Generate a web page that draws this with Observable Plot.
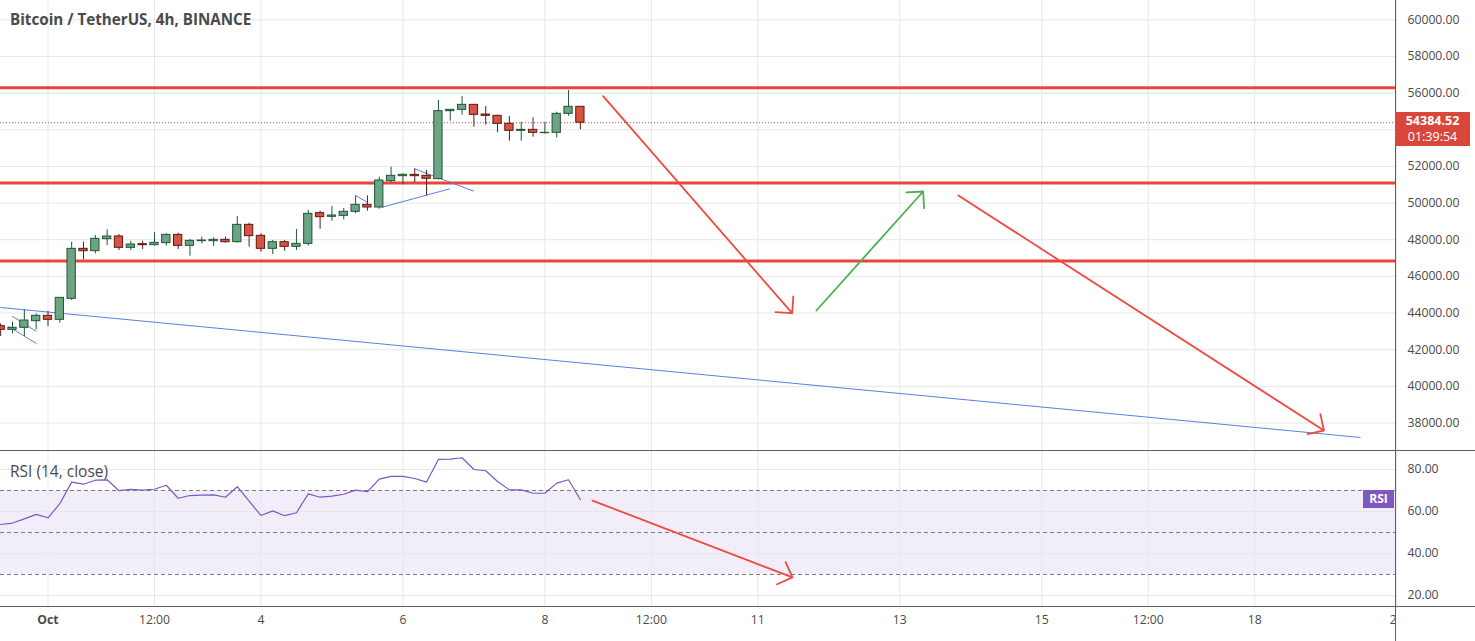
<!DOCTYPE html>
<html><head><meta charset="utf-8">
<script src="https://cdn.jsdelivr.net/npm/d3@7"></script>
<script src="https://cdn.jsdelivr.net/npm/@observablehq/plot@0.6"></script>
<style>
html,body{margin:0;padding:0;background:#fff;overflow:hidden;}
#wrap{position:relative;width:1475px;height:641px;overflow:hidden;font-family:"Open Sans",sans-serif;}
#main,#rsi{position:absolute;left:0;}
#main{top:0;} #rsi{top:450px;}
.ov{position:absolute;}
.title{left:10px;top:9px;font-weight:bold;font-size:15.2px;color:#4a4a4a;white-space:nowrap;}
.rsititle{left:10px;top:460px;font-size:15.5px;color:#4a4a4a;white-space:nowrap;}
.hline{left:0;width:1475px;height:1px;background:#5d606b;}
.vline{left:1395px;top:0;width:1px;height:641px;background:#5d606b;}
.cover{left:1396px;top:607px;width:79px;height:34px;background:#fff;}
.plabel{left:1395px;width:75px;height:34px;background:#d9473b;color:#fff;font-size:12.5px;line-height:16px;text-align:center;padding-top:1px;box-sizing:border-box;}
.rlabel{left:1363px;width:31px;height:18px;background:#7e57c2;color:#fff;font-size:12px;font-weight:bold;line-height:18px;text-align:center;}
</style></head><body>
<div id="wrap">
  <div id="main"></div>
  <div id="rsi"></div>
</div>
<script>
// ---- data ----
const candleTimes = [
  "2021-09-30T08:00Z","2021-09-30T12:00Z","2021-09-30T16:00Z","2021-09-30T20:00Z",
  "2021-10-01T00:00Z","2021-10-01T04:00Z","2021-10-01T08:00Z","2021-10-01T12:00Z","2021-10-01T16:00Z","2021-10-01T20:00Z",
  "2021-10-02T00:00Z","2021-10-02T04:00Z","2021-10-02T08:00Z","2021-10-02T12:00Z","2021-10-02T16:00Z","2021-10-02T20:00Z",
  "2021-10-03T00:00Z","2021-10-03T04:00Z","2021-10-03T08:00Z","2021-10-03T12:00Z","2021-10-03T16:00Z","2021-10-03T20:00Z",
  "2021-10-04T00:00Z","2021-10-04T04:00Z","2021-10-04T08:00Z","2021-10-04T12:00Z","2021-10-04T16:00Z","2021-10-04T20:00Z",
  "2021-10-05T00:00Z","2021-10-05T04:00Z","2021-10-05T08:00Z","2021-10-05T12:00Z","2021-10-05T16:00Z","2021-10-05T20:00Z",
  "2021-10-06T00:00Z","2021-10-06T04:00Z","2021-10-06T08:00Z","2021-10-06T12:00Z","2021-10-06T16:00Z","2021-10-06T20:00Z",
  "2021-10-07T00:00Z","2021-10-07T04:00Z","2021-10-07T08:00Z","2021-10-07T12:00Z","2021-10-07T16:00Z","2021-10-07T20:00Z",
  "2021-10-08T00:00Z","2021-10-08T04:00Z","2021-10-08T08:00Z","2021-10-08T12:00Z"
];
const opens  = [43284,43084,43193,43557,43848,43630,44776,47504,47376,48031,48176,47558,47758,47704,47813,48267,47667,47922,47922,47995,47867,48813,48213,47504,47867,47613,47776,49450,49250,49304,49522,49904,49759,51196,51468,51541,51487,51305,55015,55088,55360,54833,54760,54324,53942,53996,53814,53833,54869,55251];
const highs  = [43411,43502,44175,43957,44084,44830,47867,47867,48231,48540,48286,47922,47922,48395,48322,48358,48013,48140,48104,48140,49268,48904,48322,47958,47958,48558,49595,49559,49813,49704,50395,50395,51414,51959,51596,51868,51778,55597,55088,55815,55360,55269,54797,54724,54415,54651,54415,54960,56142,55251];
const lows   = [42720,42866,42720,43084,43266,43448,44685,46903,47231,47685,47413,47413,47467,47649,47649,47467,47103,47776,47631,47813,47813,47594,47322,47194,47376,47413,47649,48577,49013,49086,49413,49559,49668,51123,50995,51123,50395,51268,54469,54797,54142,54251,53833,53378,53378,53596,53778,53560,54742,53996];
const closes = [43084,43193,43593,43848,43630,44830,47504,47376,48049,48176,47558,47740,47704,47831,48267,47667,47940,47958,47995,47867,48813,48195,47504,47867,47613,47776,49413,49231,49322,49522,49904,49759,51232,51487,51541,51468,51323,55015,55088,55360,54815,54760,54324,53942,53996,53833,53833,54869,55251,54384.52];
const rsiValues = [53.8,54.5,56.5,58.6,57.0,63.7,74.0,73.0,74.9,75.1,69.9,70.5,70.2,70.6,72.5,66.3,67.6,67.8,67.9,66.8,71.8,64.9,58.1,60.3,58.0,59.4,68.4,66.8,67.3,68.2,70.2,69.4,75.4,76.7,76.7,75.7,74.0,84.8,84.9,85.6,80.0,79.4,74.3,70.3,70.3,68.7,68.7,73.5,75.1,65.6];

const priceTicks = [38000,40000,42000,44000,46000,48000,50000,52000,54000,56000,58000,60000];
const rsiTicks = [20,40,60,80];
const rsiLevels = [30,50,70];
const rsiBand = [[30,70]];
const tickTimes = ["2021-10-01T00:00Z","2021-10-02T12:00Z","2021-10-04T00:00Z","2021-10-06T00:00Z","2021-10-08T00:00Z","2021-10-09T12:00Z","2021-10-11T00:00Z","2021-10-13T00:00Z","2021-10-15T00:00Z","2021-10-16T12:00Z","2021-10-18T00:00Z","2021-10-20T00:00Z"];
const tickLabels = ["Oct","12:00","4","6","8","12:00","11","13","15","12:00","18","20"];

const levels = [56290, 51100, 46840];
const greenLevel = [56000];
const trendLines = [
  {t1:"2021-09-30T07:56Z", p1:44303, t2:"2021-10-19T11:46Z", p2:37210},
  {t1:"2021-09-30T11:54Z", p1:43828, t2:"2021-09-30T20:06Z", p2:42994},
  {t1:"2021-09-30T10:38Z", p1:43266, t2:"2021-09-30T20:06Z", p2:42339},
  {t1:"2021-10-05T07:58Z", p1:50414, t2:"2021-10-05T11:55Z", p2:50048},
  {t1:"2021-10-05T17:00Z", p1:49775, t2:"2021-10-06T15:54Z", p2:50779},
  {t1:"2021-10-06T03:55Z", p1:51870, t2:"2021-10-07T00:00Z", p2:50648}
];
const priceArrows = [
  {t1:"2021-10-08T19:42Z", p1:55832, t2:"2021-10-11T11:36Z", p2:43992, color:"#ef4a40"},
  {t1:"2021-10-11T19:48Z", p1:44140, t2:"2021-10-13T07:54Z", p2:50632, color:"#4caf50"},
  {t1:"2021-10-13T19:48Z", p1:50414, t2:"2021-10-18T23:24Z", p2:37592, color:"#ef4a40"}
];
const rsiArrows = [
  {t1:"2021-10-08T16:06Z", v1:65.2, t2:"2021-10-11T11:42Z", v2:28.6, color:"#ef4a40"}
];
const titleText = "Bitcoin / TetherUS, 4h, BINANCE";
const rsiTitle = "RSI (14, close)";
const countdown = "01:39:54";

// ---- build ----
const xDomain = [new Date("2021-09-30T07:56:24Z"), new Date("2021-10-19T23:36:00Z")];
const yDomain = [36501, 61053];
const rsiDomain = [14.76, 88.57];
const candles = candleTimes.map((t,i)=>({t:new Date(t), o:opens[i], h:highs[i], l:lows[i], c:closes[i]}));
const rsiData = candleTimes.map((t,i)=>({t:new Date(t), v:rsiValues[i]}));
const tickDates = tickTimes.map(s=>new Date(s));
const tickObjs = tickDates.map((d,i)=>({t:d, label:tickLabels[i]}));
const up = d => d.c >= d.o;
const half = 1.4*3600e3;
const lastClose = closes[closes.length-1];
const lastRsi = rsiValues[rsiValues.length-1];
const D = s => new Date(s);
const gridColor = "#e6e7ea";
const baseStyle = {fontFamily:'"Open Sans", sans-serif', fontSize:"12.2px", color:"#4a4a4a", background:"transparent", overflow:"visible"};
// price-axis labels hidden under the last-price tag (as in the original)
const visiblePriceTicks = priceTicks.filter(v => Math.abs(v - lastClose) > 1000);

const mainPlot = Plot.plot({
  width:1475, height:450, marginLeft:0, marginRight:80, marginTop:0, marginBottom:0,
  style: baseStyle,
  x:{type:"utc", domain:xDomain, axis:null},
  y:{domain:yDomain, axis:"right", ticks:visiblePriceTicks, tickFormat:d=>d.toFixed(2), tickSize:0, tickPadding:12, label:null},
  color:{type:"identity"},
  marks:[
    Plot.ruleY(priceTicks.filter(v=>!greenLevel.includes(v)), {stroke:gridColor}),
    Plot.ruleY(greenLevel, {stroke:"#c9ebcb"}),
    Plot.ruleX(tickDates, {stroke:gridColor}),
    Plot.ruleY(levels, {stroke:"#e8453c", strokeWidth:3}),
    Plot.ruleY([lastClose], {stroke:"#d9453b", strokeDasharray:"1,2"}),
    Plot.link(trendLines, {x1:d=>D(d.t1), y1:"p1", x2:d=>D(d.t2), y2:"p2", stroke:"#5b7fe0", strokeWidth:1}),
    Plot.ruleX(candles, {x:"t", y1:"l", y2:"h", stroke:d=>up(d)?"#225437":"#5b1a13", strokeWidth:1}),
    Plot.rect(candles, {x1:d=>new Date(+d.t-half), x2:d=>new Date(+d.t+half), y1:"o", y2:"c",
      fill:d=>up(d)?"#6ba583":"#d75442", stroke:d=>up(d)?"#225437":"#5b1a13", strokeWidth:1}),
    Plot.arrow(priceArrows, {x1:d=>D(d.t1), y1:"p1", x2:d=>D(d.t2), y2:"p2", stroke:"color", strokeWidth:1.8, headLength:14, headAngle:90})
  ]
});

const rsiPlot = Plot.plot({
  width:1475, height:191, marginLeft:0, marginRight:80, marginTop:1, marginBottom:35,
  style: baseStyle,
  x:{type:"utc", domain:xDomain, axis:null},
  y:{domain:rsiDomain, axis:"right", ticks:rsiTicks, tickFormat:d=>d.toFixed(2), tickSize:0, tickPadding:12, label:null},
  color:{type:"identity"},
  marks:[
    Plot.rect(rsiBand, {x1:()=>xDomain[0], x2:()=>xDomain[1], y1:d=>d[0], y2:d=>d[1], fill:"#7e57c2", fillOpacity:0.1}),
    Plot.ruleY(rsiTicks, {stroke:gridColor}),
    Plot.ruleX(tickDates, {stroke:gridColor}),
    Plot.ruleY(rsiLevels, {stroke:"#787b86", strokeDasharray:"4,3"}),
    Plot.line(rsiData, {x:"t", y:"v", stroke:"#7e57c2", strokeWidth:1.2}),
    Plot.arrow(rsiArrows, {x1:d=>D(d.t1), y1:"v1", x2:d=>D(d.t2), y2:"v2", stroke:"color", strokeWidth:1.8, headLength:14, headAngle:90}),
    Plot.text(tickObjs.slice(0,1), {x:"t", text:"label", frameAnchor:"bottom", dy:17, fontWeight:"bold", fill:"#4a4a4a", fontSize:12.2}),
    Plot.text(tickObjs.slice(1), {x:"t", text:"label", frameAnchor:"bottom", dy:17, fill:"#4a4a4a", fontSize:12.2})
  ]
});

document.getElementById("main").appendChild(mainPlot);
document.getElementById("rsi").appendChild(rsiPlot);

const wrap = document.getElementById("wrap");
function addDiv(cls, html, css){ const d=document.createElement("div"); d.className="ov "+cls; if(html!=null) d.innerHTML=html; if(css) Object.assign(d.style, css); wrap.appendChild(d); return d; }
addDiv("title", titleText);
addDiv("rsititle", rsiTitle);
addDiv("cover");
addDiv("hline", null, {top:"450px"});
addDiv("hline", null, {top:"606px"});
addDiv("vline");
const py = mainPlot.scale("y").apply(lastClose);
addDiv("plabel", "<b>"+lastClose.toFixed(2)+"</b><br>"+countdown, {top:(py-10)+"px"});
const ry = 450 + rsiPlot.scale("y").apply(lastRsi);
addDiv("rlabel", "RSI", {top:(ry-9)+"px"});
</script>
</body></html>
